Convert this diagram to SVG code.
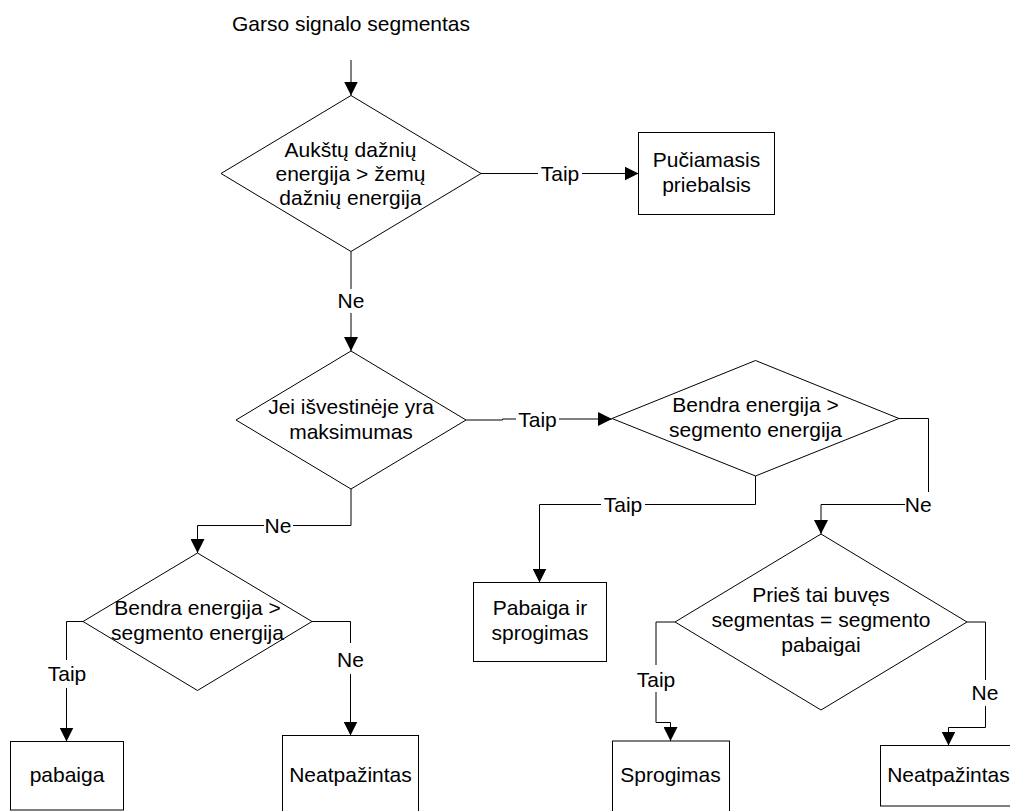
<svg xmlns="http://www.w3.org/2000/svg" width="1010" height="811" viewBox="0 0 1010 811">
  <style>
    .shape { fill: #fff; stroke: #000; stroke-width: 1; }
    .edge { fill: none; stroke: #000; stroke-width: 1; }
    text { font-family: "Liberation Sans", Arial, sans-serif; font-size: 21px; fill: #000; text-anchor: middle; }
  </style>
  <defs>
    <marker id="arrow" markerUnits="userSpaceOnUse" markerWidth="14" markerHeight="14" refX="14" refY="7" orient="auto" viewBox="0 0 14 14">
      <path d="M0,0 L14,7 L0,14 z" fill="#000"/>
    </marker>
  </defs>

  <rect width="1010" height="811" fill="#fff"/>

  <!-- input caption -->
  <text id="input-label" x="351" y="30.5">Garso signalo segmentas</text>

  <!-- connectors -->
  <g id="connectors">
    <path class="edge" d="M351,60 V95.5" marker-end="url(#arrow)"/>
    <path class="edge" d="M481,173.5 H538 M582,173.5 H638.5" marker-end="url(#arrow)"/>
    <path class="edge" d="M351,251.5 V289 M351,313 V351" marker-end="url(#arrow)"/>
    <path class="edge" d="M466,420 H502.5 V419 H516 M559,419 H612" marker-end="url(#arrow)"/>
    <path class="edge" d="M351,489 V525.5 H293 M264,525.5 H197.5 V553" marker-end="url(#arrow)"/>
    <path class="edge" d="M755.5,476 V504.5 H645 M601,504.5 H539.5 V582.5" marker-end="url(#arrow)"/>
    <path class="edge" d="M899,418.5 H928.5 V492 M905,504.5 H821 V534" marker-end="url(#arrow)"/>
    <path class="edge" d="M83,621.5 H66.5 V660 M66.5,688 V741.5" marker-end="url(#arrow)"/>
    <path class="edge" d="M312,621.5 H350.5 V643 M350.5,674 V735.5" marker-end="url(#arrow)"/>
    <path class="edge" d="M675,622 H656 V665 M656,692 V722.5 H670.5 V741" marker-end="url(#arrow)"/>
    <path class="edge" d="M967,622 H985.5 V680 M985.5,706 V727.5 H948.5 V745.5" marker-end="url(#arrow)"/>

    <text x="560" y="181">Taip</text>
    <text x="351" y="307.5">Ne</text>
    <text x="537.5" y="426.5">Taip</text>
    <text x="278" y="532.5">Ne</text>
    <text x="623" y="512">Taip</text>
    <text x="918.3" y="512">Ne</text>
    <text x="67" y="680.5">Taip</text>
    <text x="350.5" y="666.5">Ne</text>
    <text x="656" y="686.5">Taip</text>
    <text x="985" y="699.5">Ne</text>
  </g>

  <!-- decision: high vs low band energy -->
  <g id="d-high-low">
    <polygon class="shape" points="351,95.5 481,173.5 351,251.5 221,173.5"/>
    <text x="350.5" y="156.5">Aukštų dažnių</text>
    <text x="350.5" y="180.5">energija &gt; žemų</text>
    <text x="350.5" y="204.5">dažnių energija</text>
  </g>

  <g id="n-fricative">
    <rect class="shape" x="638.5" y="132.5" width="136" height="82"/>
    <text x="706.5" y="166.5">Pučiamasis</text>
    <text x="706.5" y="191.5">priebalsis</text>
  </g>

  <!-- decision: derivative maximum -->
  <g id="d-derivative">
    <polygon class="shape" points="351,351 466,420 351,489 236,420"/>
    <text x="351" y="413.5">Jei išvestinėje yra</text>
    <text x="351" y="438.5">maksimumas</text>
  </g>

  <g id="d-energy-right">
    <polygon class="shape" points="755.5,360.5 899,418.5 755.5,476 612,418.5"/>
    <text x="755.5" y="412">Bendra energija &gt;</text>
    <text x="755.5" y="437">segmento energija</text>
  </g>

  <g id="n-end-burst">
    <rect class="shape" x="473.5" y="582.5" width="133" height="79"/>
    <text x="540" y="615">Pabaiga ir</text>
    <text x="540" y="640">sprogimas</text>
  </g>

  <g id="d-previous">
    <polygon class="shape" points="821,534 967,622 821,710 675,622"/>
    <text x="821" y="602">Prieš tai buvęs</text>
    <text x="821" y="627">segmentas = segmento</text>
    <text x="821" y="652">pabaigai</text>
  </g>

  <g id="d-energy-left">
    <polygon class="shape" points="197.5,553 312,621.5 197.5,690.5 83,621.5"/>
    <text x="197.5" y="615">Bendra energija &gt;</text>
    <text x="197.5" y="639.5">segmento energija</text>
  </g>

  <g id="n-end">
    <rect class="shape" x="10.5" y="741.5" width="113" height="68.5"/>
    <text x="67" y="781.5">pabaiga</text>
  </g>

  <g id="n-unknown-left">
    <rect class="shape" x="282.5" y="735.5" width="136" height="80"/>
    <text x="350.5" y="781.5">Neatpažintas</text>
  </g>

  <g id="n-burst">
    <rect class="shape" x="612.5" y="741" width="117" height="75"/>
    <text x="670.5" y="781.5">Sprogimas</text>
  </g>

  <g id="n-unknown-right">
    <rect class="shape" x="880.5" y="745.5" width="136" height="60.5"/>
    <text x="948.5" y="781.5">Neatpažintas</text>
  </g>
</svg>
